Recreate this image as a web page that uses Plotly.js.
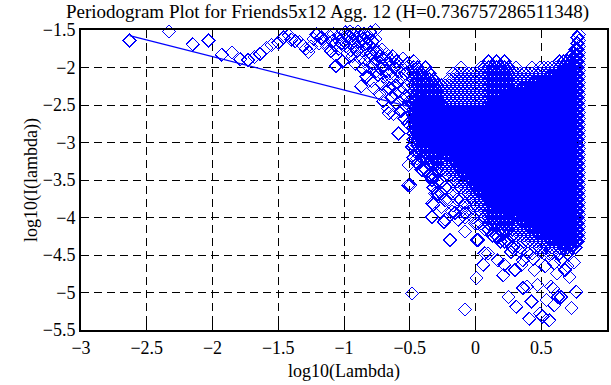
<!DOCTYPE html>
<html>
<head>
<meta charset="utf-8">
<script src="https://cdn.plot.ly/plotly-3.0.1.min.js"></script>
<style>
html,body{margin:0;padding:0;background:#fff;}
#chart{width:611px;height:385px;}
.scatterlayer .point{shape-rendering:crispEdges;}
</style>
</head>
<body>
<div id="chart"></div>
<script>
// Low-frequency and arc points (log10 lambda, log10 I(lambda))
const arcX = [-2.63,-2.33,-2.15,-2.03,-1.93,-1.85,-1.79,-1.73,-1.68,-1.64,-1.59,-1.55,-1.50,-1.46,-1.42,-1.40,-1.37,-1.34,-1.31,-1.29,-1.27,-1.25,-1.23,-1.21,-1.19,-1.17,-1.15,-1.13,
-1.11,-1.10,-1.09,-1.08,-1.07,-1.06,-1.06,-1.05,-1.04,-1.03,-1.02,-1.01,-1.00,-0.99,-0.985,-0.975,
-0.97,-0.96,-0.955,-0.95,-0.94,-0.935,-0.93,-0.92,-0.915,-0.91,-0.90,-0.895,-0.89,-0.88,-0.875,-0.87,-0.865,-0.86,-0.855,-0.85,-0.845,-0.84,-0.835,-0.83,-0.825,-0.82,-0.815,-0.81,-0.805,-0.80,-0.795,-0.79,-0.785,-0.78,-0.775,-0.77,-0.765,-0.76,-0.76,-0.755,-0.75,
-0.745,-0.74,-0.735,-0.73,-0.725,-0.72,-0.715,-0.71,-0.705,-0.70,-0.695,-0.69,-0.685,-0.68,-0.675,-0.67,-0.665,-0.66,-0.66,-0.655,-0.65,-0.645,-0.64,-0.635,-0.63,-0.625,-0.62,-0.615,-0.61,-0.605,-0.60,-0.595,-0.59,-0.585,-0.58,-0.575,-0.57,-0.565,-0.56,-0.555,-0.55,-0.545,-0.54,-0.535,-0.53,-0.525,-0.52,-0.515,-0.51,-0.505];
const arcY = [-1.64,-1.52,-1.69,-1.64,-1.83,-1.80,-1.89,-1.90,-1.86,-1.82,-1.74,-1.70,-1.67,-1.60,-1.57,-1.63,-1.65,-1.66,-1.71,-1.75,-1.79,-1.72,-1.62,-1.56,-1.68,-1.60,-1.66,-1.72,
-1.58,-1.78,-1.65,-1.55,-1.70,-1.84,-1.98,-1.62,-1.75,-1.56,-1.68,-1.92,-1.60,-1.53,-1.72,-1.81,
-1.58,-1.66,-1.52,-1.77,-1.62,-1.85,-1.55,-1.70,-1.95,-1.60,-1.78,-1.52,-1.66,-1.88,-1.58,-2.25,-1.72,-1.62,-2.02,-1.80,-1.55,-1.92,-1.68,-2.12,-1.75,-1.60,-1.86,-2.00,-1.70,-1.53,-1.82,-2.18,-1.65,-1.95,-1.76,-2.28,-1.88,-1.62,-1.50,-2.05,-1.80,
-1.78,-2.10,-1.92,-2.35,-1.85,-2.02,-2.22,-1.76,-1.98,-2.45,-2.12,-1.88,-2.30,-2.05,-1.82,-2.18,-2.55,-1.95,-2.61,-2.28,-2.08,-1.90,-2.40,-2.15,-1.85,-2.62,-2.25,-2.00,-2.35,-2.12,-1.92,-2.48,-2.20,-2.88,-2.05,-2.32,-1.98,-2.58,-2.15,-2.42,-1.88,-2.28,-2.68,-2.08,-2.38,-2.52,-1.95,-2.22,-2.75,-2.45];

// Dense high-frequency cloud, read column by column
const colX = [-0.47,-0.44,-0.41,-0.38,-0.35,-0.32,-0.29,-0.26,-0.23,-0.20,-0.17,-0.14,-0.11,-0.08,-0.05,-0.02,0.01,0.04,0.07,0.10,0.13,0.16,0.19,0.22,0.25,0.28,0.31,0.34,0.37,0.40,0.43,0.46,0.49,0.52,0.55,0.58,0.61,0.64,0.67,0.70,0.73,0.76,0.775,0.785];
const colY = [
[-1.92,-2.0,-2.08,-2.16,-2.24,-2.32,-2.4,-2.48,-2.56,-2.64,-2.72,-2.8,-2.88,-2.96,-3.04,-3.2],
[-2.0,-2.08,-2.16,-2.24,-2.32,-2.4,-2.48,-2.56,-2.64,-2.72,-2.8,-2.88,-2.96,-3.04,-3.12,-3.28],
[-2.08,-2.16,-2.24,-2.32,-2.4,-2.48,-2.56,-2.64,-2.72,-2.8,-2.88,-2.96,-3.04,-3.12,-3.2,-3.36],
[-2.0,-2.16,-2.24,-2.32,-2.4,-2.48,-2.56,-2.64,-2.72,-2.8,-2.88,-2.96,-3.04,-3.12,-3.2,-3.36],
[-2.08,-2.16,-2.24,-2.32,-2.4,-2.48,-2.56,-2.64,-2.72,-2.8,-2.88,-2.96,-3.04,-3.12,-3.2,-3.28,-3.44],
[-2.16,-2.24,-2.32,-2.4,-2.48,-2.56,-2.64,-2.72,-2.8,-2.88,-2.96,-3.04,-3.12,-3.2,-3.28,-3.44,-3.6],
[-2.24,-2.32,-2.4,-2.48,-2.56,-2.64,-2.72,-2.8,-2.88,-2.96,-3.04,-3.12,-3.2,-3.28,-3.36,-3.52],
[-2.24,-2.32,-2.4,-2.48,-2.56,-2.64,-2.72,-2.8,-2.88,-2.96,-3.04,-3.12,-3.2,-3.28,-3.36,-3.52,-3.68],
[-2.24,-2.32,-2.4,-2.48,-2.56,-2.64,-2.72,-2.8,-2.88,-2.96,-3.04,-3.12,-3.2,-3.28,-3.36,-3.44,-3.6],
[-2.16,-2.24,-2.32,-2.4,-2.48,-2.56,-2.64,-2.72,-2.8,-2.88,-2.96,-3.04,-3.12,-3.2,-3.28,-3.36,-3.44,-3.6,-3.76],
[-2.08,-2.16,-2.24,-2.32,-2.4,-2.48,-2.56,-2.64,-2.72,-2.8,-2.88,-2.96,-3.04,-3.12,-3.2,-3.28,-3.36,-3.44,-3.52,-3.68,-3.84],
[-2.08,-2.16,-2.24,-2.32,-2.4,-2.48,-2.56,-2.64,-2.72,-2.8,-2.88,-2.96,-3.04,-3.12,-3.2,-3.28,-3.36,-3.44,-3.52,-3.6,-3.76],
[-2.0,-2.08,-2.16,-2.24,-2.32,-2.4,-2.48,-2.56,-2.64,-2.72,-2.8,-2.88,-2.96,-3.04,-3.12,-3.2,-3.28,-3.36,-3.44,-3.52,-3.6,-3.76,-3.92],
[-2.08,-2.16,-2.24,-2.32,-2.4,-2.48,-2.56,-2.64,-2.72,-2.8,-2.88,-2.96,-3.04,-3.12,-3.2,-3.28,-3.36,-3.44,-3.52,-3.6,-3.68,-3.84,-4.0],
[-2.08,-2.16,-2.24,-2.32,-2.4,-2.48,-2.56,-2.64,-2.72,-2.8,-2.88,-2.96,-3.04,-3.12,-3.2,-3.28,-3.36,-3.44,-3.52,-3.6,-3.68,-3.76,-3.92],
[-2.08,-2.16,-2.24,-2.32,-2.4,-2.48,-2.56,-2.64,-2.72,-2.8,-2.88,-2.96,-3.04,-3.12,-3.2,-3.28,-3.36,-3.44,-3.52,-3.6,-3.68,-3.76,-3.84,-4.0],
[-2.08,-2.16,-2.24,-2.32,-2.4,-2.48,-2.56,-2.64,-2.72,-2.8,-2.88,-2.96,-3.04,-3.12,-3.2,-3.28,-3.36,-3.44,-3.52,-3.6,-3.68,-3.76,-3.84,-3.92,-4.08],
[-2.0,-2.08,-2.16,-2.24,-2.32,-2.4,-2.48,-2.56,-2.64,-2.72,-2.8,-2.88,-2.96,-3.04,-3.12,-3.2,-3.28,-3.36,-3.44,-3.52,-3.6,-3.68,-3.76,-3.84,-3.92,-4.08],
[-2.0,-2.08,-2.16,-2.24,-2.32,-2.4,-2.48,-2.56,-2.64,-2.72,-2.8,-2.88,-2.96,-3.04,-3.12,-3.2,-3.28,-3.36,-3.44,-3.52,-3.6,-3.68,-3.76,-3.84,-3.92,-4.0,-4.16],
[-1.92,-2.0,-2.08,-2.16,-2.24,-2.32,-2.4,-2.48,-2.56,-2.64,-2.72,-2.8,-2.88,-2.96,-3.04,-3.12,-3.2,-3.28,-3.36,-3.44,-3.52,-3.6,-3.68,-3.76,-3.84,-3.92,-4.0,-4.16],
[-2.0,-2.08,-2.16,-2.24,-2.32,-2.4,-2.48,-2.56,-2.64,-2.72,-2.8,-2.88,-2.96,-3.04,-3.12,-3.2,-3.28,-3.36,-3.44,-3.52,-3.6,-3.68,-3.76,-3.84,-3.92,-4.0,-4.08,-4.24],
[-1.92,-2.0,-2.08,-2.16,-2.24,-2.32,-2.4,-2.48,-2.56,-2.64,-2.72,-2.8,-2.88,-2.96,-3.04,-3.12,-3.2,-3.28,-3.36,-3.44,-3.52,-3.6,-3.68,-3.76,-3.84,-3.92,-4.0,-4.08,-4.24],
[-2.0,-2.08,-2.16,-2.24,-2.32,-2.4,-2.48,-2.56,-2.64,-2.72,-2.8,-2.88,-2.96,-3.04,-3.12,-3.2,-3.28,-3.36,-3.44,-3.52,-3.6,-3.68,-3.76,-3.84,-3.92,-4.0,-4.08,-4.16,-4.32],
[-1.92,-2.0,-2.08,-2.16,-2.24,-2.32,-2.4,-2.48,-2.56,-2.64,-2.72,-2.8,-2.88,-2.96,-3.04,-3.12,-3.2,-3.28,-3.36,-3.44,-3.52,-3.6,-3.68,-3.76,-3.84,-3.92,-4.0,-4.08,-4.16,-4.32],
[-2.0,-2.08,-2.16,-2.24,-2.32,-2.4,-2.48,-2.56,-2.64,-2.72,-2.8,-2.88,-2.96,-3.04,-3.12,-3.2,-3.28,-3.36,-3.44,-3.52,-3.6,-3.68,-3.76,-3.84,-3.92,-4.0,-4.08,-4.16,-4.32],
[-2.08,-2.16,-2.24,-2.32,-2.4,-2.48,-2.56,-2.64,-2.72,-2.8,-2.88,-2.96,-3.04,-3.12,-3.2,-3.28,-3.36,-3.44,-3.52,-3.6,-3.68,-3.76,-3.84,-3.92,-4.0,-4.08,-4.16,-4.24,-4.4],
[-2.0,-2.08,-2.16,-2.24,-2.32,-2.4,-2.48,-2.56,-2.64,-2.72,-2.8,-2.88,-2.96,-3.04,-3.12,-3.2,-3.28,-3.36,-3.44,-3.52,-3.6,-3.68,-3.76,-3.84,-3.92,-4.0,-4.08,-4.16,-4.24,-4.4],
[-2.08,-2.16,-2.24,-2.32,-2.4,-2.48,-2.56,-2.64,-2.72,-2.8,-2.88,-2.96,-3.04,-3.12,-3.2,-3.28,-3.36,-3.44,-3.52,-3.6,-3.68,-3.76,-3.84,-3.92,-4.0,-4.08,-4.16,-4.24,-4.4],
[-2.08,-2.16,-2.24,-2.32,-2.4,-2.48,-2.56,-2.64,-2.72,-2.8,-2.88,-2.96,-3.04,-3.12,-3.2,-3.28,-3.36,-3.44,-3.52,-3.6,-3.68,-3.76,-3.84,-3.92,-4.0,-4.08,-4.16,-4.24,-4.32],
[-2.08,-2.16,-2.24,-2.32,-2.4,-2.48,-2.56,-2.64,-2.72,-2.8,-2.88,-2.96,-3.04,-3.12,-3.2,-3.28,-3.36,-3.44,-3.52,-3.6,-3.68,-3.76,-3.84,-3.92,-4.0,-4.08,-4.16,-4.24,-4.32,-4.48],
[-2.0,-2.08,-2.16,-2.24,-2.32,-2.4,-2.48,-2.56,-2.64,-2.72,-2.8,-2.88,-2.96,-3.04,-3.12,-3.2,-3.28,-3.36,-3.44,-3.52,-3.6,-3.68,-3.76,-3.84,-3.92,-4.0,-4.08,-4.16,-4.24,-4.32,-4.48],
[-2.08,-2.16,-2.24,-2.32,-2.4,-2.48,-2.56,-2.64,-2.72,-2.8,-2.88,-2.96,-3.04,-3.12,-3.2,-3.28,-3.36,-3.44,-3.52,-3.6,-3.68,-3.76,-3.84,-3.92,-4.0,-4.08,-4.16,-4.24,-4.32,-4.4],
[-2.0,-2.08,-2.16,-2.24,-2.32,-2.4,-2.48,-2.56,-2.64,-2.72,-2.8,-2.88,-2.96,-3.04,-3.12,-3.2,-3.28,-3.36,-3.44,-3.52,-3.6,-3.68,-3.76,-3.84,-3.92,-4.0,-4.08,-4.16,-4.24,-4.32,-4.4],
[-2.0,-2.08,-2.16,-2.24,-2.32,-2.4,-2.48,-2.56,-2.64,-2.72,-2.8,-2.88,-2.96,-3.04,-3.12,-3.2,-3.28,-3.36,-3.44,-3.52,-3.6,-3.68,-3.76,-3.84,-3.92,-4.0,-4.08,-4.16,-4.24,-4.32,-4.4,-4.48],
[-2.0,-2.08,-2.16,-2.24,-2.32,-2.4,-2.48,-2.56,-2.64,-2.72,-2.8,-2.88,-2.96,-3.04,-3.12,-3.2,-3.28,-3.36,-3.44,-3.52,-3.6,-3.68,-3.76,-3.84,-3.92,-4.0,-4.08,-4.16,-4.24,-4.32,-4.4],
[-2.0,-2.08,-2.16,-2.24,-2.32,-2.4,-2.48,-2.56,-2.64,-2.72,-2.8,-2.88,-2.96,-3.04,-3.12,-3.2,-3.28,-3.36,-3.44,-3.52,-3.6,-3.68,-3.76,-3.84,-3.92,-4.0,-4.08,-4.16,-4.24,-4.32,-4.4,-4.48],
[-2.0,-2.08,-2.16,-2.24,-2.32,-2.4,-2.48,-2.56,-2.64,-2.72,-2.8,-2.88,-2.96,-3.04,-3.12,-3.2,-3.28,-3.36,-3.44,-3.52,-3.6,-3.68,-3.76,-3.84,-3.92,-4.0,-4.08,-4.16,-4.24,-4.32,-4.4],
[-1.92,-2.0,-2.08,-2.16,-2.24,-2.32,-2.4,-2.48,-2.56,-2.64,-2.72,-2.8,-2.88,-2.96,-3.04,-3.12,-3.2,-3.28,-3.36,-3.44,-3.52,-3.6,-3.68,-3.76,-3.84,-3.92,-4.0,-4.08,-4.16,-4.24,-4.32,-4.4,-4.48],
[-1.92,-2.0,-2.08,-2.16,-2.24,-2.32,-2.4,-2.48,-2.56,-2.64,-2.72,-2.8,-2.88,-2.96,-3.04,-3.12,-3.2,-3.28,-3.36,-3.44,-3.52,-3.6,-3.68,-3.76,-3.84,-3.92,-4.0,-4.08,-4.16,-4.24,-4.32,-4.4],
[-1.92,-2.0,-2.08,-2.16,-2.24,-2.32,-2.4,-2.48,-2.56,-2.64,-2.72,-2.8,-2.88,-2.96,-3.04,-3.12,-3.2,-3.28,-3.36,-3.44,-3.52,-3.6,-3.68,-3.76,-3.84,-3.92,-4.0,-4.08,-4.16,-4.24,-4.32,-4.4,-4.48],
[-1.84,-1.92,-2.0,-2.08,-2.16,-2.24,-2.32,-2.4,-2.48,-2.56,-2.64,-2.72,-2.8,-2.88,-2.96,-3.04,-3.12,-3.2,-3.28,-3.36,-3.44,-3.52,-3.6,-3.68,-3.76,-3.84,-3.92,-4.0,-4.08,-4.16,-4.24,-4.32,-4.4],
[-1.76,-1.84,-1.92,-2.0,-2.08,-2.16,-2.24,-2.32,-2.4,-2.48,-2.56,-2.64,-2.72,-2.8,-2.88,-2.96,-3.04,-3.12,-3.2,-3.28,-3.36,-3.44,-3.52,-3.6,-3.68,-3.76,-3.84,-3.92,-4.0,-4.08,-4.16,-4.24,-4.32,-4.4],
[-1.6,-1.68,-1.76,-1.84,-1.92,-2.0,-2.08,-2.16,-2.24,-2.32,-2.4,-2.48,-2.56,-2.64,-2.72,-2.8,-2.88,-2.96,-3.04,-3.12,-3.2,-3.28,-3.36,-3.44,-3.52,-3.6,-3.68,-3.76,-3.84,-3.92,-4.0,-4.08,-4.16,-4.24,-4.32],
[-1.56,-1.64,-1.72,-1.8,-1.88,-1.96,-2.04,-2.12,-2.2,-2.28,-2.36,-2.44,-2.52,-2.6,-2.68,-2.76,-2.84,-2.92,-3.0,-3.08,-3.16,-3.24,-3.32,-3.4,-3.48,-3.56,-3.64,-3.72,-3.8,-3.88,-3.96,-4.04,-4.12,-4.2,-4.28]
];

// Second set of cloud columns, between the ones above (the saturated core)
const midX = [-0.455,-0.425,-0.395,-0.365,-0.335,-0.305,-0.275,-0.245,-0.215,-0.185,-0.155,-0.125,-0.095,-0.065,-0.035,-0.005,0.025,0.055,0.085,0.115,0.145,0.175,0.205,0.235,0.265,0.295,0.325,0.355,0.385,0.415,0.445,0.475,0.505,0.535,0.565,0.595,0.625,0.655,0.685,0.715,0.745];
const midY = [
[-2.44,-2.52,-2.6,-2.68,-2.76,-2.84],
[-2.52,-2.6,-2.68,-2.76,-2.84,-2.92],
[-2.44,-2.52,-2.6,-2.68,-2.76,-2.84,-2.92],
[-2.52,-2.6,-2.68,-2.76,-2.84,-2.92],
[-2.52,-2.6,-2.68,-2.76,-2.84,-2.92,-3.0],
[-2.52,-2.6,-2.68,-2.76,-2.84,-2.92,-3.0],
[-2.52,-2.6,-2.68,-2.76,-2.84,-2.92,-3.0,-3.08],
[-2.52,-2.6,-2.68,-2.76,-2.84,-2.92,-3.0,-3.08],
[-2.6,-2.68,-2.76,-2.84,-2.92,-3.0,-3.08,-3.16],
[-2.6,-2.68,-2.76,-2.84,-2.92,-3.0,-3.08,-3.16],
[-2.6,-2.68,-2.76,-2.84,-2.92,-3.0,-3.08,-3.16,-3.24],
[-2.6,-2.68,-2.76,-2.84,-2.92,-3.0,-3.08,-3.16,-3.24,-3.32],
[-2.6,-2.68,-2.76,-2.84,-2.92,-3.0,-3.08,-3.16,-3.24,-3.32,-3.4],
[-2.6,-2.68,-2.76,-2.84,-2.92,-3.0,-3.08,-3.16,-3.24,-3.32,-3.4],
[-2.6,-2.68,-2.76,-2.84,-2.92,-3.0,-3.08,-3.16,-3.24,-3.32,-3.4,-3.48],
[-2.6,-2.68,-2.76,-2.84,-2.92,-3.0,-3.08,-3.16,-3.24,-3.32,-3.4,-3.48,-3.56],
[-2.6,-2.68,-2.76,-2.84,-2.92,-3.0,-3.08,-3.16,-3.24,-3.32,-3.4,-3.48,-3.56,-3.64],
[-2.6,-2.68,-2.76,-2.84,-2.92,-3.0,-3.08,-3.16,-3.24,-3.32,-3.4,-3.48,-3.56,-3.64],
[-2.6,-2.68,-2.76,-2.84,-2.92,-3.0,-3.08,-3.16,-3.24,-3.32,-3.4,-3.48,-3.56,-3.64,-3.72],
[-2.52,-2.6,-2.68,-2.76,-2.84,-2.92,-3.0,-3.08,-3.16,-3.24,-3.32,-3.4,-3.48,-3.56,-3.64,-3.72],
[-2.52,-2.6,-2.68,-2.76,-2.84,-2.92,-3.0,-3.08,-3.16,-3.24,-3.32,-3.4,-3.48,-3.56,-3.64,-3.72,-3.8],
[-2.52,-2.6,-2.68,-2.76,-2.84,-2.92,-3.0,-3.08,-3.16,-3.24,-3.32,-3.4,-3.48,-3.56,-3.64,-3.72,-3.8],
[-2.44,-2.52,-2.6,-2.68,-2.76,-2.84,-2.92,-3.0,-3.08,-3.16,-3.24,-3.32,-3.4,-3.48,-3.56,-3.64,-3.72,-3.8],
[-2.44,-2.52,-2.6,-2.68,-2.76,-2.84,-2.92,-3.0,-3.08,-3.16,-3.24,-3.32,-3.4,-3.48,-3.56,-3.64,-3.72,-3.8,-3.88],
[-2.36,-2.44,-2.52,-2.6,-2.68,-2.76,-2.84,-2.92,-3.0,-3.08,-3.16,-3.24,-3.32,-3.4,-3.48,-3.56,-3.64,-3.72,-3.8,-3.88],
[-2.36,-2.44,-2.52,-2.6,-2.68,-2.76,-2.84,-2.92,-3.0,-3.08,-3.16,-3.24,-3.32,-3.4,-3.48,-3.56,-3.64,-3.72,-3.8,-3.88,-3.96],
[-2.36,-2.44,-2.52,-2.6,-2.68,-2.76,-2.84,-2.92,-3.0,-3.08,-3.16,-3.24,-3.32,-3.4,-3.48,-3.56,-3.64,-3.72,-3.8,-3.88,-3.96],
[-2.28,-2.36,-2.44,-2.52,-2.6,-2.68,-2.76,-2.84,-2.92,-3.0,-3.08,-3.16,-3.24,-3.32,-3.4,-3.48,-3.56,-3.64,-3.72,-3.8,-3.88,-3.96,-4.04],
[-2.28,-2.36,-2.44,-2.52,-2.6,-2.68,-2.76,-2.84,-2.92,-3.0,-3.08,-3.16,-3.24,-3.32,-3.4,-3.48,-3.56,-3.64,-3.72,-3.8,-3.88,-3.96,-4.04],
[-2.28,-2.36,-2.44,-2.52,-2.6,-2.68,-2.76,-2.84,-2.92,-3.0,-3.08,-3.16,-3.24,-3.32,-3.4,-3.48,-3.56,-3.64,-3.72,-3.8,-3.88,-3.96,-4.04,-4.12],
[-2.2,-2.28,-2.36,-2.44,-2.52,-2.6,-2.68,-2.76,-2.84,-2.92,-3.0,-3.08,-3.16,-3.24,-3.32,-3.4,-3.48,-3.56,-3.64,-3.72,-3.8,-3.88,-3.96,-4.04,-4.12],
[-2.2,-2.28,-2.36,-2.44,-2.52,-2.6,-2.68,-2.76,-2.84,-2.92,-3.0,-3.08,-3.16,-3.24,-3.32,-3.4,-3.48,-3.56,-3.64,-3.72,-3.8,-3.88,-3.96,-4.04,-4.12,-4.2],
[-2.2,-2.28,-2.36,-2.44,-2.52,-2.6,-2.68,-2.76,-2.84,-2.92,-3.0,-3.08,-3.16,-3.24,-3.32,-3.4,-3.48,-3.56,-3.64,-3.72,-3.8,-3.88,-3.96,-4.04,-4.12,-4.2],
[-2.2,-2.28,-2.36,-2.44,-2.52,-2.6,-2.68,-2.76,-2.84,-2.92,-3.0,-3.08,-3.16,-3.24,-3.32,-3.4,-3.48,-3.56,-3.64,-3.72,-3.8,-3.88,-3.96,-4.04,-4.12,-4.2],
[-2.12,-2.2,-2.28,-2.36,-2.44,-2.52,-2.6,-2.68,-2.76,-2.84,-2.92,-3.0,-3.08,-3.16,-3.24,-3.32,-3.4,-3.48,-3.56,-3.64,-3.72,-3.8,-3.88,-3.96,-4.04,-4.12,-4.2,-4.28],
[-2.12,-2.2,-2.28,-2.36,-2.44,-2.52,-2.6,-2.68,-2.76,-2.84,-2.92,-3.0,-3.08,-3.16,-3.24,-3.32,-3.4,-3.48,-3.56,-3.64,-3.72,-3.8,-3.88,-3.96,-4.04,-4.12,-4.2,-4.28],
[-2.12,-2.2,-2.28,-2.36,-2.44,-2.52,-2.6,-2.68,-2.76,-2.84,-2.92,-3.0,-3.08,-3.16,-3.24,-3.32,-3.4,-3.48,-3.56,-3.64,-3.72,-3.8,-3.88,-3.96,-4.04,-4.12,-4.2,-4.28],
[-2.12,-2.2,-2.28,-2.36,-2.44,-2.52,-2.6,-2.68,-2.76,-2.84,-2.92,-3.0,-3.08,-3.16,-3.24,-3.32,-3.4,-3.48,-3.56,-3.64,-3.72,-3.8,-3.88,-3.96,-4.04,-4.12,-4.2,-4.28],
[-2.04,-2.12,-2.2,-2.28,-2.36,-2.44,-2.52,-2.6,-2.68,-2.76,-2.84,-2.92,-3.0,-3.08,-3.16,-3.24,-3.32,-3.4,-3.48,-3.56,-3.64,-3.72,-3.8,-3.88,-3.96,-4.04,-4.12,-4.2,-4.28,-4.36],
[-2.04,-2.12,-2.2,-2.28,-2.36,-2.44,-2.52,-2.6,-2.68,-2.76,-2.84,-2.92,-3.0,-3.08,-3.16,-3.24,-3.32,-3.4,-3.48,-3.56,-3.64,-3.72,-3.8,-3.88,-3.96,-4.04,-4.12,-4.2,-4.28,-4.36],
[-1.96,-2.04,-2.12,-2.2,-2.28,-2.36,-2.44,-2.52,-2.6,-2.68,-2.76,-2.84,-2.92,-3.0,-3.08,-3.16,-3.24,-3.32,-3.4,-3.48,-3.56,-3.64,-3.72,-3.8,-3.88,-3.96,-4.04,-4.12,-4.2,-4.28,-4.36]
];

// Scattered low outliers
const outX = [-0.495,-0.483,-0.332,-0.33,-0.193,-0.24,-0.08,0.008,-0.08,0.008,0.06,0.097,0.17,0.21,0.22,0.25,0.31,0.36,0.39,0.35,0.41,0.425,0.49,0.56,0.575,0.59,0.65,0.73,0.765,0.715,0.68,0.60,0.65,0.51,0.5,0.56,0.34,0.36,0.27,0.07,0.02,0.17,0.1,-0.004,-0.13,-0.08,-0.18,-0.26,-0.31,-0.33,-0.51,-0.45,-0.483,-0.445,-0.51,-0.36,-0.41,-0.33,-0.29,-0.32,-0.23,-0.33,-0.23,-0.155,-0.08,0.6,0.626,0.54,0.45,0.7,0.75,0.62,0.47,0.53,0.44,0.3];
const outY = [-3.57,-5.01,-3.99,-3.81,-4.3,-4.06,-4.19,-4.3,-5.23,-4.81,-4.63,-4.48,-4.57,-4.77,-4.63,-5.06,-5.19,-4.94,-4.92,-4.63,-5.35,-5.12,-5.28,-5.37,-4.92,-4.95,-5.06,-5.21,-4.99,-4.79,-4.7,-4.61,-4.57,-5.32,-4.46,-4.48,-4.46,-4.57,-4.46,-4.48,-4.3,-4.26,-4.08,-4.08,-4.03,-3.94,-3.92,-3.86,-3.68,-3.46,-3.3,-3.14,-3.06,-3.21,-3.57,-3.28,-3.37,-3.5,-3.68,-3.83,-3.77,-3.99,-4.03,-3.94,-3.81,-5.17,-5.06,-5.1,-4.7,-4.65,-4.6,-4.75,-4.9,-4.65,-4.55,-4.7];

// Least-squares fit line over the low frequencies
const fitX = [-2.63, -0.25];
const fitY = [-1.575, -2.634];

const titleText = "Periodogram Plot for Friends5x12 Agg. 12 (H=0.736757286511348)";
const xTitle = "log10(Lambda)";
const yTitle = "log10(I(lambda))";

// outer points: arc, cloud columns, outliers
const px = arcX.slice(), py = arcY.slice();
colX.forEach((x, i) => colY[i].forEach(y => { px.push(x); py.push(y); }));
outX.forEach((x, i) => { px.push(x); py.push(outY[i]); });
// core points (interior of the cloud, where the diamonds overlap completely)
const cx = [], cy = [];
midX.forEach((x, i) => midY[i].forEach(y => { cx.push(x); cy.push(y); }));

const blue = "#0000ff";
const font = "Liberation Serif, Times New Roman, serif";

const traces = [
  { type: "scatter", mode: "markers", x: px, y: py, hoverinfo: "skip", cliponaxis: false,
    marker: { symbol: "diamond-open", size: 10, color: blue, line: { color: blue, width: 1 } } },
  { type: "scatter", mode: "markers", x: cx, y: cy, hoverinfo: "skip", cliponaxis: false,
    marker: { symbol: "diamond-open", size: 10, color: blue, line: { color: blue, width: 2 } } },
  { type: "scatter", mode: "lines", x: fitX, y: fitY, hoverinfo: "skip",
    line: { color: blue, width: 1.3 } }
];

const axisCommon = {
  showline: true, linecolor: "#000", linewidth: 2, mirror: "ticks",
  ticks: "inside", ticklen: 6, tickwidth: 1, tickcolor: "#000",
  showgrid: true, gridcolor: "#000", gridwidth: 1, griddash: "8px,5px",
  zeroline: false, dtick: 0.5,
  tickfont: { family: font, size: 18, color: "#000" }
};

const layout = {
  width: 611, height: 385,
  margin: { l: 81, r: 4, t: 30, b: 55 },
  paper_bgcolor: "#fff", plot_bgcolor: "#fff",
  showlegend: false,
  title: { text: titleText, font: { family: font, size: 19, color: "#000" },
           x: 66/611, xanchor: "left", xref: "container", y: 1 - 11/385, yanchor: "middle", yref: "container" },
  xaxis: Object.assign({}, axisCommon, { range: [-3, 1], tick0: -3,
    title: { text: xTitle, font: { family: font, size: 18, color: "#000" }, standoff: 8 } }),
  yaxis: Object.assign({}, axisCommon, { range: [-5.5, -1.5], tick0: -5.5,
    title: { text: yTitle, font: { family: font, size: 18, color: "#000" }, standoff: 0 } })
};

Plotly.newPlot("chart", traces, layout, { staticPlot: true, displayModeBar: false });
</script>
</body>
</html>
